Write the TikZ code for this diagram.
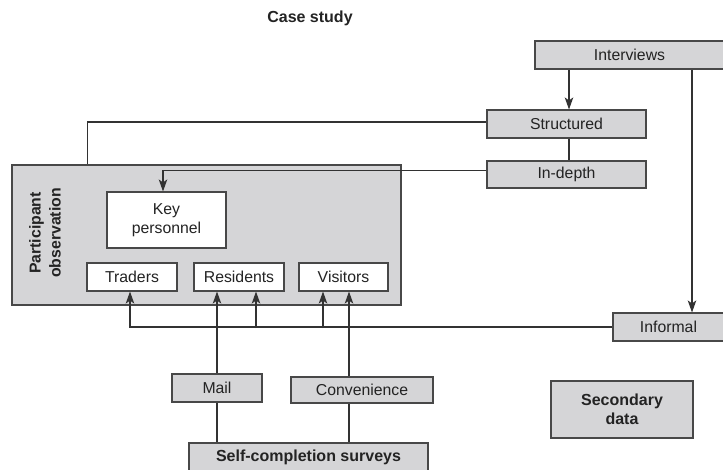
\documentclass[tikz,border=0pt]{standalone}
\usepackage{fontspec}
\setmainfont{Liberation Sans}
\usetikzlibrary{arrows.meta,calc}
\definecolor{boxfill}{RGB}{213,213,215}
\definecolor{boxline}{RGB}{72,72,72}
\definecolor{wire}{RGB}{50,50,50}
\definecolor{ink}{RGB}{35,35,35}
\tikzset{
  box/.style={draw=boxline, fill=boxfill, line width=1.1pt, inner sep=0pt,
    text=ink, align=center, font=\fontsize{15.8}{19.5}\selectfont},
  whitebox/.style={box, fill=white},
  boldbox/.style={box, font=\fontsize{16}{19.5}\selectfont\bfseries},
  wirestyle/.style={draw=wire, line width=1.1pt},
  arr/.style={wirestyle, -{Stealth[length=12pt,width=8.5pt,inset=3pt]}},
}
\begin{document}
\begin{tikzpicture}[x=1pt,y=-1pt]
\useasboundingbox[fill=white] (0,0) rectangle (723,469);

% title
\node (title) [text=ink, font=\fontsize{16}{19}\selectfont\bfseries] at (310,18) {Case study};

% interview branch
\node (iv)  [box, minimum width=189pt, minimum height=28pt] at (629.5,55) {Interviews};
\node (st)  [box, minimum width=159pt, minimum height=28pt] at (566.5,124) {Structured};
\node (id)  [box, minimum width=159pt, minimum height=27pt] at (566.5,174.5) {In-depth};
\node (inf) [box, minimum width=111pt, minimum height=28pt] at (668.5,327) {Informal};

% participant observation frame and its groups
\node (po) [box, minimum width=389pt, minimum height=140pt] at (206.5,235) {};
\node (pol) [text=ink, rotate=90, align=center, font=\fontsize{15.8}{20}\selectfont\bfseries]
  at (45,233) {Participant\\observation};
\node (kp)  [whitebox, minimum width=119pt, minimum height=56pt] at (166.5,220) {Key\\personnel};
\node (tr)  [whitebox, minimum width=90pt, minimum height=28pt] at (132,277) {Traders};
\node (res) [whitebox, minimum width=90pt, minimum height=28pt] at (239,277) {Residents};
\node (vis) [whitebox, minimum width=89pt, minimum height=28pt] at (343.5,277) {Visitors};

% surveys
\node (mail) [box, minimum width=90pt, minimum height=28pt] at (217,388) {Mail};
\node (conv) [box, minimum width=142pt, minimum height=26pt] at (362,390) {Convenience};
\node (sc)   [boldbox, minimum width=239pt, minimum height=28pt] at (308.5,457) {Self-completion surveys};

% secondary data
\node (sd) [boldbox, minimum width=142pt, minimum height=57pt] at (622,409.5) {Secondary\\data};

% interview connectors
\draw[arr] ([xshift=2.5pt]iv.south -| st.north) -- ([xshift=2.5pt]st.north);
\draw[wirestyle] ([xshift=2.5pt]st.south) -- ([xshift=2.5pt]id.north);
\draw[arr] ([xshift=23.5pt]iv.south -| inf.north) -- ([xshift=23.5pt]inf.north);
\draw[wirestyle] ([yshift=2pt]st.west) -| ($(po.north west)+(76,0)$);
\draw[arr] ([yshift=4pt]id.west) -| ([xshift=-3.5pt]kp.north);

% informal feed into the groups
\coordinate (b1) at (256,328);
\coordinate (b2) at (323,328);
\draw[arr] (inf.west) -| ([xshift=-2pt]tr.south);
\draw[arr] (b1) -- (b1 |- res.south);
\draw[arr] (b2) -- (b2 |- vis.south);

% survey connectors
\draw[arr] (mail.north) -- (mail.north |- res.south);
\draw[arr] ([xshift=-13pt]conv.north) -- ([xshift=-13pt]conv.north |- vis.south);
\draw[wirestyle] (mail.south) -- (mail.south |- sc.north);
\draw[wirestyle] ([xshift=-13pt]conv.south) -- ([xshift=-13pt]conv.south |- sc.north);
\end{tikzpicture}
\end{document}
